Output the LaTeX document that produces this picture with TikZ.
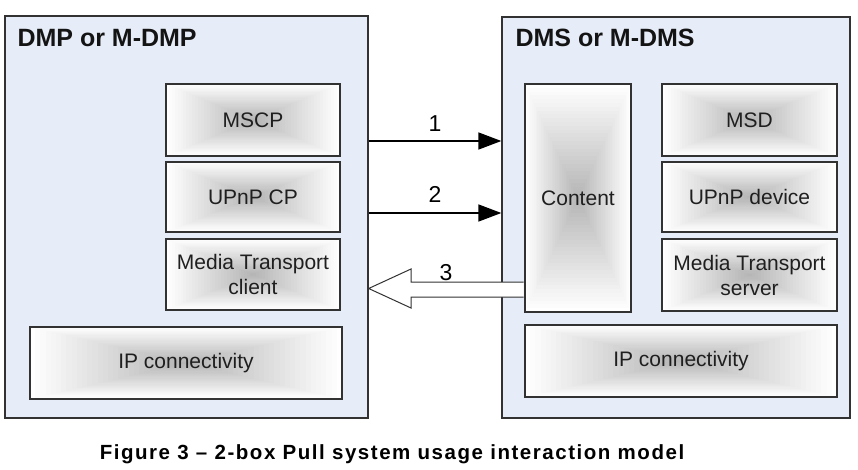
\documentclass[tikz,border=0pt]{standalone}
\usepackage{fontspec}
\setmainfont{Liberation Sans}
\usetikzlibrary{arrows.meta,calc}
\definecolor{sysfill}{RGB}{231,237,248}
\definecolor{boxline}{RGB}{50,50,50}
\definecolor{unitmid}{RGB}{182,182,182}
\begin{document}
\begin{tikzpicture}[x=1pt,y=-1pt,
  sys/.style={draw=boxline,fill=sysfill,line width=1.3pt,inner sep=0pt},
  unit/.style={draw=boxline,line width=1.3pt,inner sep=0pt,align=center,
    minimum width=174pt,minimum height=72pt,text=black!88,
    font=\fontsize{21}{25}\selectfont,
    path picture={
      \foreach \i in {0,...,29}{
        \pgfmathsetmacro\t{1-\i/30}
        \pgfmathsetmacro\p{100*\i/29}
        \fill[unitmid!\p!white] ($(path picture bounding box.center)!\t!(path picture bounding box.north west)$)
          rectangle ($(path picture bounding box.center)!\t!(path picture bounding box.south east)$);
      }
    }},
  systitle/.style={anchor=base west,text=black!92,font=\fontsize{25}{30}\selectfont\bfseries},
  flow/.style={line width=1.5pt,-{Triangle[length=23pt,width=17pt]}},
  pull/.style={draw=boxline,fill=white,line width=1pt},
  num/.style={inner sep=0pt,font=\fontsize{23}{27}\selectfont}]
\useasboundingbox (0,0) rectangle (858,470);

% the two systems
\node[sys,minimum width=363pt,minimum height=402pt] (dmp) at (186.5,217) {};
\node[systitle] (dmptitle) at (14,47) {DMP or M-DMP};
\node[sys,minimum width=348pt,minimum height=401pt] (dms) at (676,217.5) {};
\node[systitle] (dmstitle) at (512,47) {DMS or M-DMS};

% player side
\node[unit] (mscp) at (253,120) {MSCP};
\node[unit,minimum height=70pt] (cp) at (253,197) {UPnP CP};
\node[unit,minimum height=71pt] (mtc) at (253,274.5) {Media Transport\\client};
\node[unit,minimum width=312pt] (ipl) at (186,363) {IP connectivity};

% server side
\node[unit,minimum width=106pt,minimum height=228pt] (content) at (578,198) {Content};
\node[unit,minimum width=175pt] (msd) at (749.5,120) {MSD};
\node[unit,minimum width=175pt,minimum height=70pt] (dev) at (749.5,197) {UPnP device};
\node[unit,minimum width=175pt] (mts) at (749.5,275) {Media Transport\\server};
\node[unit,minimum width=312pt] (ipr) at (681,361) {IP connectivity};

% interactions
\draw[flow] (dmp.east |- 0,141) -- node[num,above=9pt] (n1) {1} (dms.west |- 0,141);
\draw[flow] (dmp.east |- 0,213) -- node[num,above=10pt] (n2) {2} (dms.west |- 0,213);
\draw[pull] ([xshift=-0.7pt]content.west |- 0,282) -- (411,282) -- (411,269) -- (dmp.east |- 0,288.5)
  -- (411,308) -- (411,297) -- ([xshift=-0.7pt]content.west |- 0,297);
\node[num,anchor=base] (n3) at (446,280) {3};

\node[anchor=base,font=\fontsize{20.5}{24}\selectfont\bfseries\addfontfeature{LetterSpace=7.5}] (caption) at (392,459)
  {Figure 3 – 2-box Pull system usage interaction model};
\end{tikzpicture}
\end{document}
